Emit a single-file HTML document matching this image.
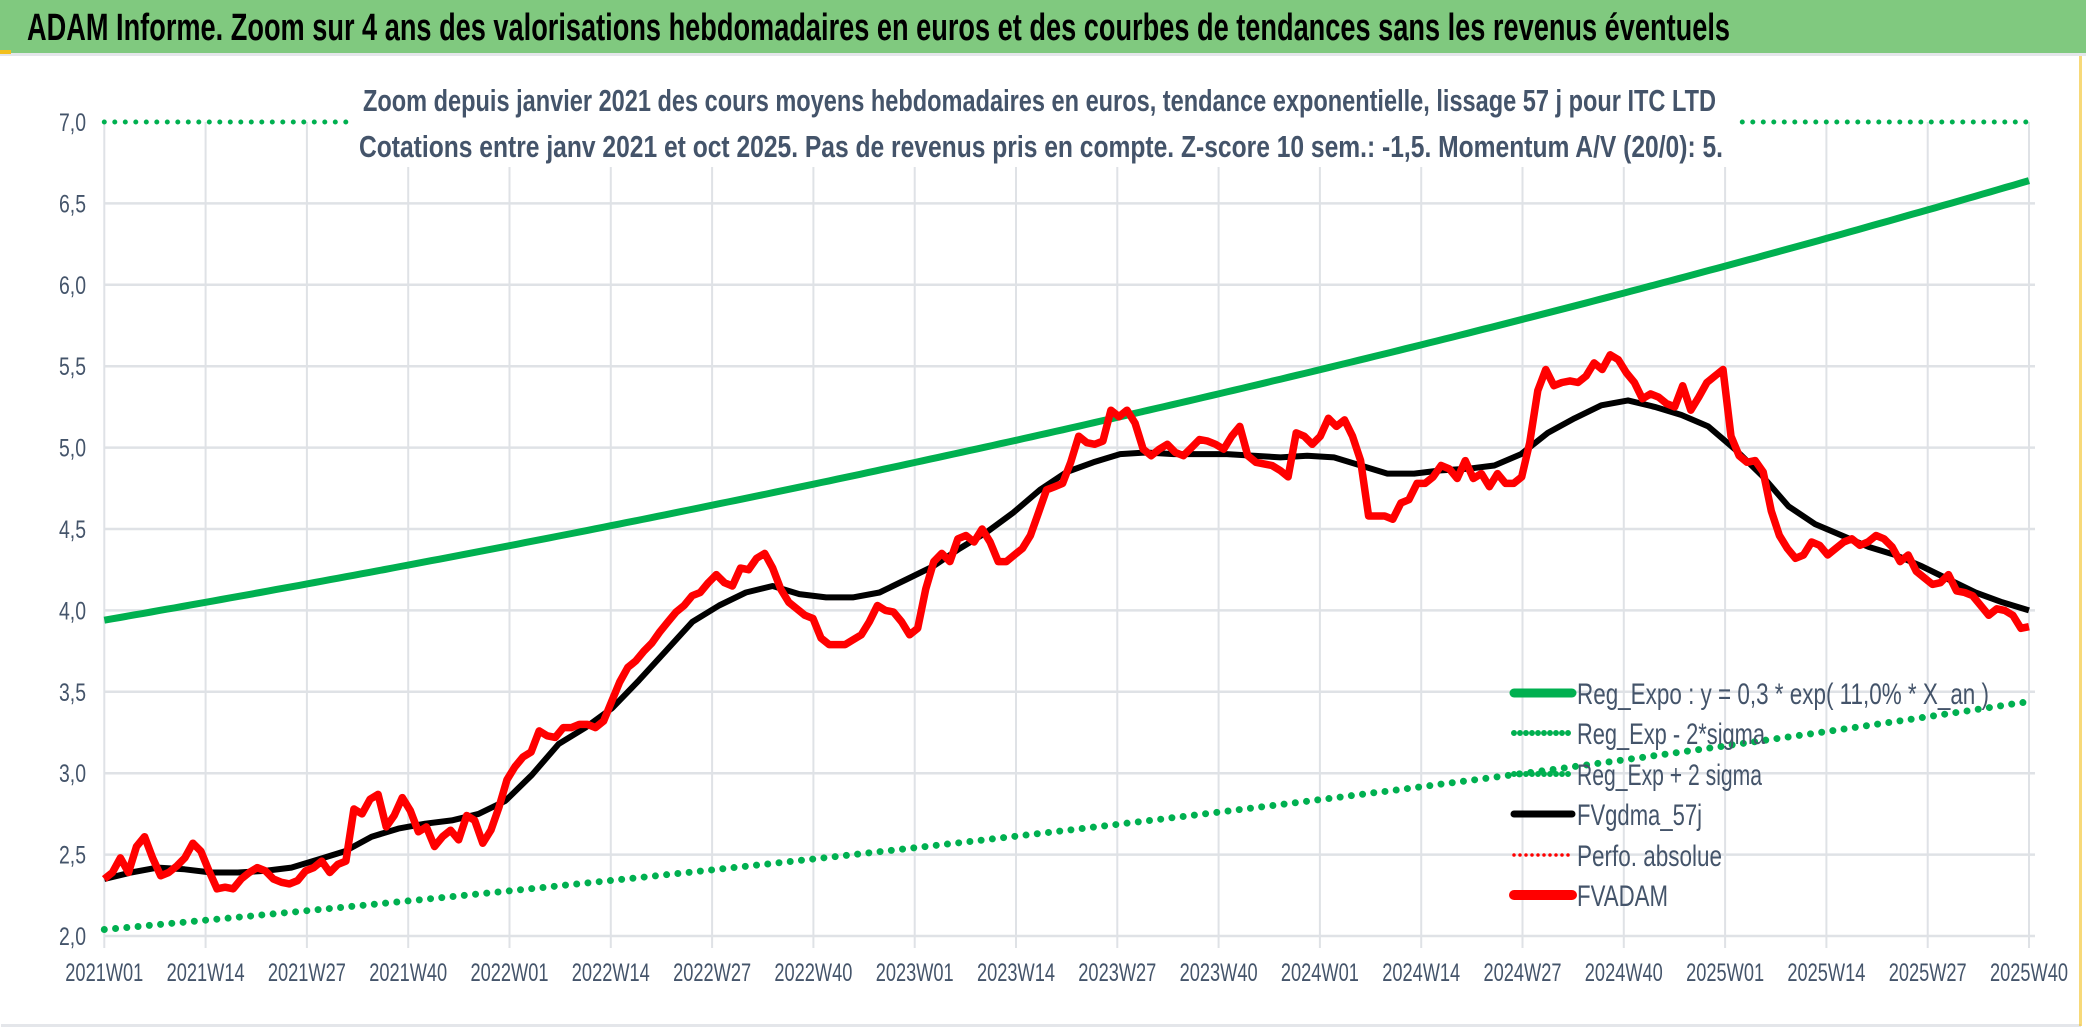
<!DOCTYPE html>
<html><head><meta charset="utf-8"><style>
html,body{margin:0;padding:0;background:#fff;}
svg{display:block;}
text{font-family:"Liberation Sans Narrow","Liberation Sans",sans-serif;}
</style></head><body>
<svg id="chart" width="2086" height="1031" viewBox="0 0 2086 1031" xmlns="http://www.w3.org/2000/svg">
<rect x="0" y="0" width="2086" height="1031" fill="#fff"/>
<rect x="0" y="0" width="2086" height="53" fill="#80c97f"/>
<rect x="0" y="53" width="2086" height="3" fill="#e4e6ea"/>
<rect x="0" y="50" width="11" height="4" fill="#f2c01e"/>
<text x="27" y="40" font-size="38" font-weight="bold" fill="#000" textLength="1703" lengthAdjust="spacingAndGlyphs">ADAM Informe. Zoom sur 4 ans des valorisations hebdomadaires en euros et des courbes de tendances sans les revenus éventuels</text>
<rect x="1" y="1024" width="2080" height="3" fill="#e4e6ea"/>
<rect x="2079" y="56" width="3" height="970" fill="#f2c01e" opacity="0.6"/>
<g id="grid"></g>
<g id="series"></g>
<rect x="350" y="75" width="1385" height="92" fill="#fff"/>
<text x="363" y="111" font-size="31" fill="#44546a" font-weight="bold" textLength="1353" lengthAdjust="spacingAndGlyphs">Zoom depuis janvier 2021 des cours moyens hebdomadaires en euros, tendance exponentielle, lissage 57 j pour ITC LTD</text>
<text x="359" y="157" font-size="31" fill="#44546a" font-weight="bold" textLength="1364" lengthAdjust="spacingAndGlyphs">Cotations entre janv 2021 et oct 2025. Pas de revenus pris en compte. Z-score 10 sem.: -1,5. Momentum A/V (20/0): 5.</text>
<g id="legend"></g>
</svg>
<script>
const xLabels = ["2021W01","2021W14","2021W27","2021W40","2022W01","2022W14","2022W27","2022W40","2023W01","2023W14","2023W27","2023W40","2024W01","2024W14","2024W27","2024W40","2025W01","2025W14","2025W27","2025W40"];
const yTicks = [2.0,2.5,3.0,3.5,4.0,4.5,5.0,5.5,6.0,6.5,7.0];
const totalWeeks = 247;
const regStart = 3.94, regEnd = 6.64;
const lowStart = 2.04, lowEnd = 3.44;
const upperCap = 7.0;
const fvgdma = [2.35,2.39,2.42,2.41,2.39,2.39,2.40,2.42,2.47,2.52,2.61,2.66,2.69,2.71,2.75,2.83,2.99,3.18,3.28,3.40,3.57,3.75,3.93,4.03,4.11,4.15,4.10,4.08,4.08,4.11,4.19,4.27,4.38,4.48,4.60,4.74,4.85,4.91,4.96,4.97,4.96,4.96,4.96,4.95,4.94,4.95,4.94,4.89,4.84,4.84,4.86,4.87,4.89,4.96,5.09,5.18,5.26,5.29,5.25,5.20,5.13,4.99,4.83,4.64,4.53,4.46,4.39,4.34,4.27,4.19,4.11,4.05,4.00];
const fvadam = [2.35,2.39,2.48,2.39,2.55,2.61,2.48,2.37,2.39,2.43,2.48,2.57,2.52,2.40,2.29,2.30,2.29,2.35,2.39,2.42,2.40,2.35,2.33,2.32,2.34,2.40,2.42,2.46,2.39,2.44,2.46,2.78,2.75,2.84,2.87,2.67,2.74,2.85,2.77,2.64,2.67,2.55,2.61,2.65,2.59,2.74,2.71,2.57,2.65,2.79,2.96,3.04,3.10,3.13,3.26,3.23,3.22,3.28,3.28,3.30,3.30,3.28,3.32,3.44,3.56,3.65,3.69,3.75,3.80,3.87,3.93,3.99,4.03,4.09,4.11,4.17,4.22,4.17,4.15,4.26,4.25,4.32,4.35,4.26,4.13,4.05,4.01,3.97,3.95,3.83,3.79,3.79,3.79,3.82,3.85,3.93,4.03,4.00,3.99,3.93,3.85,3.89,4.13,4.30,4.35,4.30,4.44,4.46,4.42,4.50,4.42,4.30,4.30,4.34,4.38,4.46,4.60,4.74,4.76,4.78,4.91,5.07,5.03,5.02,5.04,5.23,5.19,5.23,5.15,4.99,4.95,4.99,5.02,4.97,4.95,5.00,5.05,5.04,5.02,4.99,5.07,5.13,4.95,4.91,4.90,4.89,4.86,4.82,5.09,5.07,5.02,5.07,5.18,5.13,5.17,5.07,4.92,4.58,4.58,4.58,4.56,4.66,4.68,4.78,4.78,4.82,4.89,4.87,4.81,4.92,4.81,4.84,4.76,4.84,4.78,4.78,4.82,5.03,5.35,5.48,5.38,5.40,5.41,5.40,5.44,5.52,5.48,5.57,5.54,5.46,5.40,5.30,5.33,5.31,5.27,5.25,5.38,5.23,5.31,5.40,5.44,5.48,5.07,4.95,4.91,4.92,4.85,4.61,4.46,4.38,4.32,4.34,4.42,4.40,4.34,4.38,4.42,4.44,4.40,4.42,4.46,4.44,4.39,4.30,4.34,4.24,4.20,4.16,4.17,4.22,4.12,4.11,4.09,4.03,3.97,4.01,4.00,3.97,3.89,3.90];

const NS = "http://www.w3.org/2000/svg";
const X0 = 104.3, X1 = 2029, Y2 = 936, PER = 162.8;
function xw(w){ return X0 + (X1 - X0) * w / totalWeeks; }
function yv(v){ return Y2 - (v - 2) * PER; }
function mk(tag, attrs, parent){ const e = document.createElementNS(NS, tag); for (const k in attrs) e.setAttribute(k, attrs[k]); parent.appendChild(e); return e; }
const grid = document.getElementById("grid");
const series = document.getElementById("series");
const legend = document.getElementById("legend");

yTicks.forEach(function(t){
  const y = yv(t);
  if (t < 7) {
    const gl = mk("line", {x1: X0, x2: 2035, y1: y, y2: y, stroke: "#dfe2e6", "stroke-width": 2.5}, grid);
    
    
  }
  const tx = mk("text", {x: 86, y: y + 9, "font-size": 25, fill: "#44546a", "text-anchor": "end", textLength: 27, lengthAdjust: "spacingAndGlyphs"}, grid);
  tx.textContent = t.toFixed(1).replace(".", ",");
  
  
});
xLabels.forEach(function(lab, i){
  const x = xw(i * 13);
  const gl = mk("line", {x1: x, x2: x, y1: yv(7), y2: Y2 + 12, stroke: "#dfe2e6", "stroke-width": 2}, grid);
  
  
  const tx = mk("text", {x: x, y: 981, "font-size": 25, fill: "#44546a", "text-anchor": "middle", textLength: 78, lengthAdjust: "spacingAndGlyphs"}, grid);
  tx.textContent = lab;
  
  
});

function expLine(a, b){
  const pts = [];
  for (let w = 0; w <= totalWeeks; w++) { const v = a * Math.pow(b / a, w / totalWeeks); pts.push(xw(w).toFixed(1) + "," + yv(v).toFixed(1)); }
  return pts.join(" ");
}
function seriesLine(arr){
  return arr.map(function(v, i){ return xw(i * totalWeeks / (arr.length - 1)).toFixed(1) + "," + yv(v).toFixed(1); }).join(" ");
}
const up = mk("line", {x1: X0, x2: X1, y1: yv(upperCap), y2: yv(upperCap), stroke: "#00b050", "stroke-width": 5, "stroke-dasharray": "0 10.5", "stroke-linecap": "round"}, series);


const lo = mk("polyline", {points: expLine(lowStart, lowEnd), fill: "none", stroke: "#00b050", "stroke-width": 7, "stroke-dasharray": "0 11.3", "stroke-linecap": "round"}, series);


const rg = mk("polyline", {points: expLine(regStart, regEnd), fill: "none", stroke: "#00b050", "stroke-width": 7}, series);


const bk = mk("polyline", {points: seriesLine(fvgdma), fill: "none", stroke: "#000", "stroke-width": 6, "stroke-linejoin": "round"}, series);


const rd = mk("polyline", {points: seriesLine(fvadam), fill: "none", stroke: "#ff0000", "stroke-width": 7.5, "stroke-linejoin": "round"}, series);



const legendItems = [
  ["Reg_Expo : y = 0,3 * exp( 11,0% *  X_an )", "#00b050", "solid", 9, 412],
  ["Reg_Exp - 2*sigma", "#00b050", "dot", 6, 188],
  ["Reg_Exp + 2 sigma", "#00b050", "dot", 6, 185],
  ["FVgdma_57j", "#000", "solid", 7, 125],
  ["Perfo. absolue", "#ff0000", "dot", 3.5, 145],
  ["FVADAM", "#ff0000", "solid", 10, 91]
];
const legendY = [693, 733, 774, 814, 855, 895];
legendItems.forEach(function(it, i){
  const y = legendY[i];
  const g = mk("g", {}, legend);
  
  
  const attrs = {x1: 1514, x2: 1572, y1: y, y2: y, stroke: it[1], "stroke-width": it[3], "stroke-linecap": "round"};
  if (it[2] === "dot") attrs["stroke-dasharray"] = "0 6";
  const ln = mk("line", attrs, g);
  
  
  const tx = mk("text", {x: 1577, y: y + 11, "font-size": 30, fill: "#44546a", textLength: it[4], lengthAdjust: "spacingAndGlyphs"}, g);
  tx.textContent = it[0];
  
  
});
</script>
</body></html>
